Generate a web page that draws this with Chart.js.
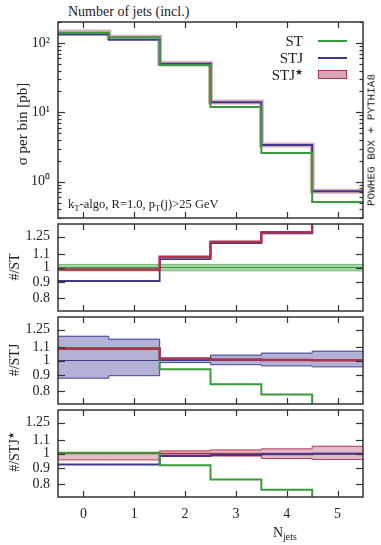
<!DOCTYPE html>
<html><head><meta charset="utf-8">
<script src="https://cdn.jsdelivr.net/npm/chart.js@4.4.0/dist/chart.umd.min.js"></script>
<style>
html,body{margin:0;padding:0;background:#fff;}
#wrap{position:relative;width:381px;height:545px;overflow:hidden;font-family:'Liberation Serif',serif;color:#222;}
canvas{position:absolute;left:0;}
.t{position:absolute;white-space:nowrap;line-height:1;}
.rot{transform:translate(-50%,-50%) rotate(-90deg);}
.sw{position:absolute;}
sub{font-size:70%;vertical-align:-0.35em;}
sup{font-size:60%;vertical-align:0.55em;}
</style></head><body><div id="wrap">
<canvas id="c0" width="381" height="200" style="top:20px;width:381px;height:200px"></canvas>
<canvas id="c1" width="381" height="91" style="top:222px;width:381px;height:91px"></canvas>
<canvas id="c2" width="381" height="91" style="top:315px;width:381px;height:91px"></canvas>
<canvas id="c3" width="381" height="121" style="top:408px;width:381px;height:121px"></canvas>

<div class="t" style="left:68px;top:5px;font-size:14px;">Number of jets (incl.)</div>
<div class="t rot" style="left:22px;top:124px;font-size:15px;">σ per bin [pb]</div>
<div class="t rot" style="left:15px;top:267px;font-size:14px;">#/ST</div>
<div class="t rot" style="left:15px;top:360px;font-size:14px;">#/STJ</div>
<div class="t rot" style="left:15px;top:452px;font-size:14px;">#/STJ<sup>★</sup></div>
<div class="t" style="left:68px;top:198px;font-size:12.5px;">k<sub>T</sub>-algo, R=1.0, p<sub>T</sub>(j)&gt;25 GeV</div>
<div class="t" style="left:273px;top:526px;font-size:14px;">N<sub>jets</sub></div>
<div class="t rot" style="left:372px;top:140px;font-size:11px;font-family:'Liberation Mono',monospace;">POWHEG BOX + PYTHIA8</div>

<div class="t" style="right:78px;top:34px;font-size:15px;">ST</div>
<div class="t" style="right:78px;top:51px;font-size:15px;">STJ</div>
<div class="t" style="right:78px;top:68px;font-size:15px;">STJ<sup>★</sup></div>
<div class="sw" style="left:318px;top:40px;width:29px;height:2px;background:#3a9a3a;"></div>
<div class="sw" style="left:318px;top:57px;width:29px;height:2px;background:#3d3a8a;"></div>
<div class="sw" style="left:318px;top:70px;width:27px;height:7px;background:#d7a5b4;border:1.5px solid #b03050;"></div>
</div>
<script>
// ---------- data ----------
const categories = [0, 1, 2, 3, 4, 5];
const mainTickValues = [1, 10, 100];
const mainTickLabels = ['10⁰', '10¹', '10²'];
const ratioTickValues = [0.8, 0.9, 1, 1.1, 1.25];
const ratioTickLabels = ['0.8', '0.9', '1', '1.1', '1.25'];

// main panel: sigma per bin [pb]
const stVals      = [140, 121, 47.5, 11.9, 2.6, 0.51];
const stjVals     = [132, 111, 50, 14, 3.38, 0.73];
const stjStarVals = [143, 121, 50.6, 14.1, 3.39, 0.73];

// ratio #/ST
const r1StBandLo = [0.976, 0.976, 0.976, 0.976, 0.976, 0.976];
const r1StBandHi = [1.023, 1.023, 1.023, 1.023, 1.023, 1.023];
const r1St       = [1, 1, 1, 1, 1, 1];
const r1Stj      = [0.907, 0.907, 1.063, 1.193, 1.28, 1.43];
const r1StjStar  = [0.986, 0.986, 1.080, 1.205, 1.29, 1.45];

// ratio #/STJ
const r2StjBandLo = [0.88, 0.896, 0.985, 0.97, 0.962, 0.955];
const r2StjBandHi = [1.192, 1.167, 1.018, 1.04, 1.055, 1.07];
const r2Stj       = [1, 1, 1, 1, 1, 1];
const r2StjStar   = [1.088, 1.088, 1.012, 1.007, 1.004, 1.002];
const r2St        = [1.095, 1.095, 0.938, 0.842, 0.782, 0.70];

// ratio #/STJ*
const r3StarBandLo = [0.955, 0.955, 0.988, 0.982, 0.965, 0.958];
const r3StarBandHi = [1.0, 1.0, 1.019, 1.026, 1.034, 1.054];
const r3Star       = [1, 1, 1, 1, 1, 1];
const r3Stj        = [0.923, 0.923, 0.983, 0.99, 0.995, 0.998];
const r3St         = [1.005, 1.005, 0.919, 0.828, 0.77, 0.70];

// ---------- styles ----------
const GREEN = '#3a9a3a', BLUE = '#3d3a8a', RED = '#b03050';
const PINK_FILL = 'rgba(190,95,125,0.42)', BLUE_FILL = 'rgba(95,95,165,0.48)', GREEN_FILL = 'rgba(60,160,60,0.45)';
Chart.defaults.font.family = "'Liberation Serif', serif";
Chart.defaults.color = '#222';

function steps(vals) {
  const pts = categories.map((c, i) => ({x: c - 0.5, y: vals[i]}));
  pts.push({x: categories[categories.length - 1] + 0.5, y: vals[vals.length - 1]});
  return pts;
}
function line(vals, color, width, order, extra) {
  return Object.assign({data: steps(vals), borderColor: color, borderWidth: width, stepped: 'before',
    pointRadius: 0, fill: false, order: order, clip: 0, tension: 0}, extra || {});
}

const minorMain = [];
for (let d = -1; d <= 2; d++) for (let m = 2; m <= 9; m++) minorMain.push(m * Math.pow(10, d));

const framePlugin = {
  id: 'frame',
  afterDraw(chart, args, opts) {
    const {ctx, chartArea: a, scales} = chart;
    ctx.save();
    ctx.strokeStyle = '#333';
    ctx.lineWidth = 1.2;
    const seg = (x1, y1, x2, y2) => { ctx.beginPath(); ctx.moveTo(x1, y1); ctx.lineTo(x2, y2); ctx.stroke(); };
    categories.forEach(v => {
      const px = Math.round(scales.x.getPixelForValue(v)) + 0.5;
      seg(px, a.top, px, a.top + 6); seg(px, a.bottom, px, a.bottom - 6);
    });
    const ys = scales.y;
    (opts.major || []).forEach(v => {
      const py = Math.round(ys.getPixelForValue(v)) + 0.5;
      seg(a.left, py, a.left + 7, py); seg(a.right, py, a.right - 7, py);
    });
    (opts.minor || []).forEach(v => {
      if (v < ys.min || v > ys.max) return;
      const py = Math.round(ys.getPixelForValue(v)) + 0.5;
      seg(a.left, py, a.left + 3.5, py); seg(a.right, py, a.right - 3.5, py);
    });
    ctx.lineWidth = 1.5;
    ctx.strokeRect(a.left, a.top, a.right - a.left, a.bottom - a.top);
    ctx.restore();
  }
};

function makeChart(id, datasets, yMin, yMax, tickVals, tickLabels, minor, showX) {
  const labelOf = v => { const i = tickVals.findIndex(t => Math.abs(t - v) < 1e-9); return i >= 0 ? tickLabels[i] : ''; };
  return new Chart(document.getElementById(id), {
    type: 'line',
    data: {datasets: datasets},
    plugins: [framePlugin],
    options: {
      responsive: false, maintainAspectRatio: false, animation: false, devicePixelRatio: 1,
      layout: {padding: {left: 0, right: 18, top: 2, bottom: 2}},
      plugins: {legend: {display: false}, tooltip: {enabled: false}, frame: {major: tickVals, minor: minor}},
      scales: {
        x: {type: 'linear', min: -0.5, max: 5.5, display: showX,
          afterBuildTicks: s => { s.ticks = categories.map(c => ({value: c})); },
          afterFit: s => { s.height = showX ? 30 : 0; s.paddingLeft = 0; s.paddingRight = 0; },
          grid: {display: false, drawTicks: false}, border: {display: false},
          ticks: {padding: 9, font: {size: 14}, maxRotation: 0, callback: v => String(v)}},
        y: {type: 'logarithmic', min: yMin, max: yMax,
          afterBuildTicks: s => { s.ticks = tickVals.map(v => ({value: v})); },
          afterFit: s => { s.width = 58; s.paddingTop = 0; s.paddingBottom = 0; },
          grid: {display: false, drawTicks: false}, border: {display: false},
          ticks: {padding: 8, autoSkip: false, font: {size: 14}, callback: v => labelOf(v)}}
      }
    }
  });
}

makeChart('c0', [
  line(stVals, GREEN, 2, 1),
  line(stjVals, BLUE, 2, 2),
  line(stjStarVals, 'rgba(200,120,145,0.6)', 5, 3)
], Math.pow(10, -0.5), 200, mainTickValues, mainTickLabels, minorMain, false);

makeChart('c1', [
  line(r1StjStar, RED, 2.5, 1),
  line(r1Stj, BLUE, 1.8, 2),
  line(r1St, GREEN, 1.2, 3),
  line(r1StBandHi, 'rgba(60,160,60,0.6)', 1, 4, {fill: {target: 4}, backgroundColor: GREEN_FILL}),
  line(r1StBandLo, 'rgba(60,160,60,0.6)', 1, 5)
], 0.73, 1.37, ratioTickValues, ratioTickLabels, [], false);

makeChart('c2', [
  line(r2StjStar, RED, 2.5, 1),
  line(r2St, GREEN, 2, 2),
  line(r2Stj, BLUE, 1.2, 3),
  line(r2StjBandHi, BLUE, 1, 4, {fill: {target: 4}, backgroundColor: BLUE_FILL}),
  line(r2StjBandLo, BLUE, 1, 5)
], 0.73, 1.37, ratioTickValues, ratioTickLabels, [], false);

makeChart('c3', [
  line(r3St, GREEN, 2, 1),
  line(r3Stj, BLUE, 2, 2),
  line(r3Star, RED, 1.5, 3),
  line(r3StarBandHi, RED, 1, 4, {fill: {target: 4}, backgroundColor: PINK_FILL}),
  line(r3StarBandLo, RED, 1, 5)
], 0.73, 1.37, ratioTickValues, ratioTickLabels, [], true);
</script>
</body></html>
